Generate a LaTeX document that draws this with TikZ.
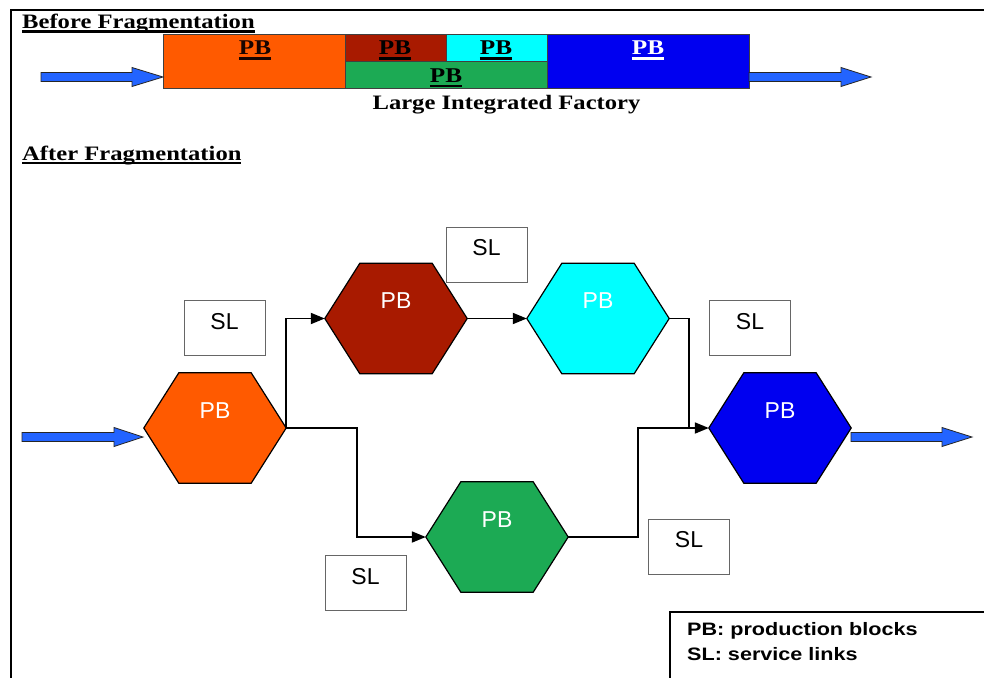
\documentclass[tikz,border=0pt]{standalone}
\usepackage{fontspec}
\setmainfont{Liberation Serif}
\newfontfamily\hdfont[FakeStretch=1.2]{Liberation Serif}
\newfontfamily\sffnt{Liberation Sans}
\newfontfamily\lgfont[FakeStretch=1.2]{Liberation Sans}
\usetikzlibrary{arrows.meta,backgrounds}
\definecolor{pborange}{RGB}{255,90,0}
\definecolor{pbred}{RGB}{168,26,0}
\definecolor{pbcyan}{RGB}{0,255,255}
\definecolor{pbgreen}{RGB}{28,170,84}
\definecolor{pbblue}{RGB}{0,0,240}
\definecolor{arrblue}{RGB}{35,100,255}
\newcommand\ulin[2][-5pt]{\setbox0\hbox{#2}\rlap{\rule[#1]{\wd0}{2.5pt}}\box0}
\newcommand\fatarrow[4]{%
  \filldraw[fill=arrblue, draw=black!85, line width=0.8pt]
    (#1,#3-4.5) -- (#2-#4,#3-4.5) -- (#2-#4,#3-9.5) -- (#2,#3)
    -- (#2-#4,#3+9.5) -- (#2-#4,#3+4.5) -- (#1,#3+4.5) -- cycle;}
\tikzset{
  fblock/.style={draw=black!75, line width=0.8pt, inner sep=0pt},
  flabel/.style={font=\hdfont\bfseries\fontsize{21}{21}\selectfont, inner sep=0pt, anchor=base},
  heading/.style={font=\hdfont\bfseries\fontsize{20.5}{24}\selectfont, inner sep=0pt},
  hexpb/.style={minimum width=142pt, minimum height=110pt, inner sep=0pt, text=white,
    font=\sffnt\fontsize{23}{23}\selectfont, text height=17pt, text depth=37pt},
  slbox/.style={draw=black!60, line width=1pt, fill=white, minimum width=81pt, minimum height=55pt,
    inner sep=0pt, font=\sffnt\fontsize{23}{23}\selectfont, text height=16pt, text depth=14pt},
  conn/.style={line width=1.8pt, -{Triangle[length=14pt,width=11pt]}},
  plainline/.style={line width=1.8pt},
  legendtext/.style={font=\lgfont\bfseries\fontsize{18}{18}\selectfont, inner sep=0pt, anchor=base west}
}
\begin{document}
\begin{tikzpicture}[x=1pt,y=-1pt]
\useasboundingbox (0,0) rectangle (984,677);
\clip (0,0) rectangle (984,677);
% frame
\draw[line width=2pt] (11,690) -- (11,10) -- (990,10);
% ---------- before fragmentation ----------
\node[heading, anchor=base west] (hbefore) at (22,29) {\ulin[-4pt]{Before Fragmentation}};
\node[fblock, fill=pborange, minimum width=182pt, minimum height=54pt] (f1) at (254,61) {};
\node[fblock, fill=pbred, minimum width=101pt, minimum height=27pt] (f2) at (395.5,47.5) {};
\node[fblock, fill=pbcyan, minimum width=101pt, minimum height=27pt] (f3) at (496.5,47.5) {};
\node[fblock, fill=pbgreen, minimum width=202pt, minimum height=27pt] (f4) at (446,74.5) {};
\node[fblock, fill=pbblue, minimum width=202pt, minimum height=54pt] (f5) at (648,61) {};
\node[flabel, text=black!85!pbred] (l1) at (255,55) {\ulin{PB}};
\node[flabel] (l2) at (395,55) {\ulin{PB}};
\node[flabel] (l3) at (496,55) {\ulin{PB}};
\node[flabel] (l4) at (446,82) {\ulin{PB}};
\node[flabel, text=white] (l5) at (648,55) {\ulin{PB}};
\node[heading, anchor=base] (lif) at (506.5,109) {Large Integrated Factory};
\fatarrow{41}{163}{77}{31}
\fatarrow{749}{871}{77}{30}
% ---------- after fragmentation ----------
\node[heading, anchor=base west] (hafter) at (22,160) {\ulin[-4pt]{After Fragmentation}};
\node[hexpb] (o) at (215,428) {PB};
\node[hexpb] (r) at (396,318.5) {PB};
\node[hexpb] (c) at (598,318.5) {PB};
\node[hexpb] (g) at (497,537) {PB};
\node[hexpb] (b) at (780,428) {PB};
\begin{pgfonlayer}{background}
\fill[white] (0,0) rectangle (984,677);
\foreach \n/\c in {o/pborange, r/pbred, c/pbcyan, g/pbgreen, b/pbblue}{
  \filldraw[fill=\c, draw=black, line width=1.2pt, line join=miter]
    (\n.west) -- ([xshift=35pt]\n.north west) -- ([xshift=-35pt]\n.north east)
    -- (\n.east) -- ([xshift=-35pt]\n.south east) -- ([xshift=35pt]\n.south west) -- cycle;
}
\end{pgfonlayer}
\coordinate (j) at (689,428);
\draw[conn] (o.east) |- (r.west);
\draw[conn] (o.east) -- ++(71,0) |- (g.west);
\draw[conn] (r.east) -- (c.west);
\draw[plainline] (c.east) -| (j);
\draw[conn] (g.east) -- ++(70,0) |- (b.west);
\node[slbox] (s1) at (224.5,328) {SL};
\node[slbox] (s2) at (486.5,254.5) {SL};
\node[slbox] (s3) at (750,328) {SL};
\node[slbox] (s4) at (365.5,583) {SL};
\node[slbox] (s5) at (689,546.5) {SL};
\fatarrow{22}{143}{437}{29}
\fatarrow{851}{972}{437}{30}
% legend
\node[draw, line width=1.5pt, anchor=north west, minimum width=340pt, minimum height=90pt, inner sep=0pt] (legend) at (669,611) {};
\node[legendtext] (lg1) at (687,635) {PB: production blocks};
\node[legendtext] (lg2) at (687,660) {SL: service links};
\end{tikzpicture}
\end{document}
